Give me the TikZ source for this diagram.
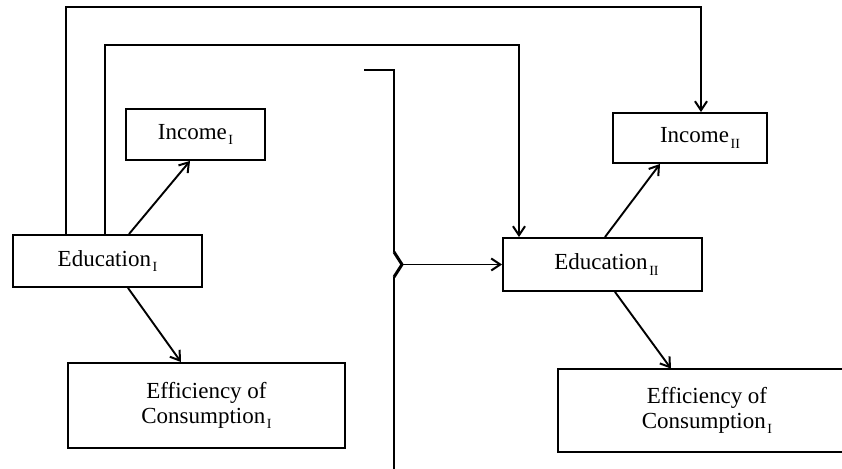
\documentclass[tikz,border=0pt]{standalone}
\usepackage{fontspec}
\setmainfont{Liberation Serif}
\usetikzlibrary{arrows.meta}
\newcommand{\subI}{\kern0.8pt\raisebox{-0.55ex}{\scriptsize I}}
\newcommand{\subII}{\kern0.8pt\raisebox{-0.55ex}{\scriptsize II}}
\begin{document}
\begin{tikzpicture}[x=0.5pt,y=-0.5pt,
  box/.style={draw,line width=0.95pt,inner sep=0pt,font=\fontsize{11.5}{12.5}\selectfont,align=center},
  openbox/.style={inner sep=0pt,font=\fontsize{11.5}{12.5}\selectfont,align=center},
  conn/.style={line width=0.95pt},
  arr/.style={line width=0.95pt,-{Straight Barb[length=4.5pt,width=6pt,line width=1pt]}}]
\useasboundingbox (0,0) rectangle (842,469);
% boxes
\node[box,minimum width=69.5pt,minimum height=25.5pt] (inc1) at (195.5,134.5) {Income\subI};
\node[box,minimum width=94.5pt,minimum height=26pt] (ed1) at (107.5,261) {Education\subI};
\node[box,minimum width=138.5pt,minimum height=42.5pt] (eff1) at (206.5,405.5) {Efficiency of\\Consumption\subI};
\node[box,minimum width=99.5pt,minimum height=26.5pt] (ed2) at (602.5,264.5) {\hspace*{4pt}Education\subII};
\node[box,minimum width=77pt,minimum height=25pt] (inc2) at (690,138) {\hspace*{10pt}Income\subII};
\node[openbox,minimum width=149pt,minimum height=41.5pt] (eff2) at (707,410.5) {Efficiency of\\Consumption\subI};
\draw[conn] (eff2.north east) -- (eff2.north west -| 558,0) -- (eff2.south west -| 558,0) -- (eff2.south east);
% x-position helpers
\coordinate (o1) at (66,7);
\coordinate (o2) at (701,7);
\coordinate (i1) at (105,45);
\coordinate (i2) at (519,45);
\coordinate (a1) at (129,0);
\coordinate (b1) at (190,0);
\coordinate (a2) at (128,0);
\coordinate (b2) at (181,0);
\coordinate (a3) at (605,0);
\coordinate (b3) at (660,0);
\coordinate (a4) at (615,0);
\coordinate (b4) at (671,0);
% long feedback lines
\draw[arr] (ed1.north -| o1) -- (o1) -- (o2) -- (o2 |- inc2.north);
\draw[arr] (ed1.north -| i1) -- (i1) -- (i2) -- (i2 |- ed2.north);
% diagonal arrows
\draw[arr] (ed1.north -| a1) -- (inc1.south -| b1);
\draw[arr] (ed1.south -| a2) -- (eff1.north -| b2);
\draw[arr] (ed2.north -| a3) -- (inc2.south -| b3);
\draw[arr] (ed2.south -| a4) -- (eff2.north -| b4);
% brace
\coordinate (bt) at (364,70);
\coordinate (bc) at (394,70);
\coordinate (bu) at (394,252);
\coordinate (tip) at (402,264.5);
\coordinate (bl) at (394,277);
\coordinate (bb) at (394,469);
\draw[conn] (bt) -- (bc) -- (bu);
\draw[line width=1.5pt] (bu) -- (tip) -- (bl);
\draw[conn] (bl) -- (bb);
\draw[arr] (tip) -- (ed2.west);
\end{tikzpicture}
\end{document}
